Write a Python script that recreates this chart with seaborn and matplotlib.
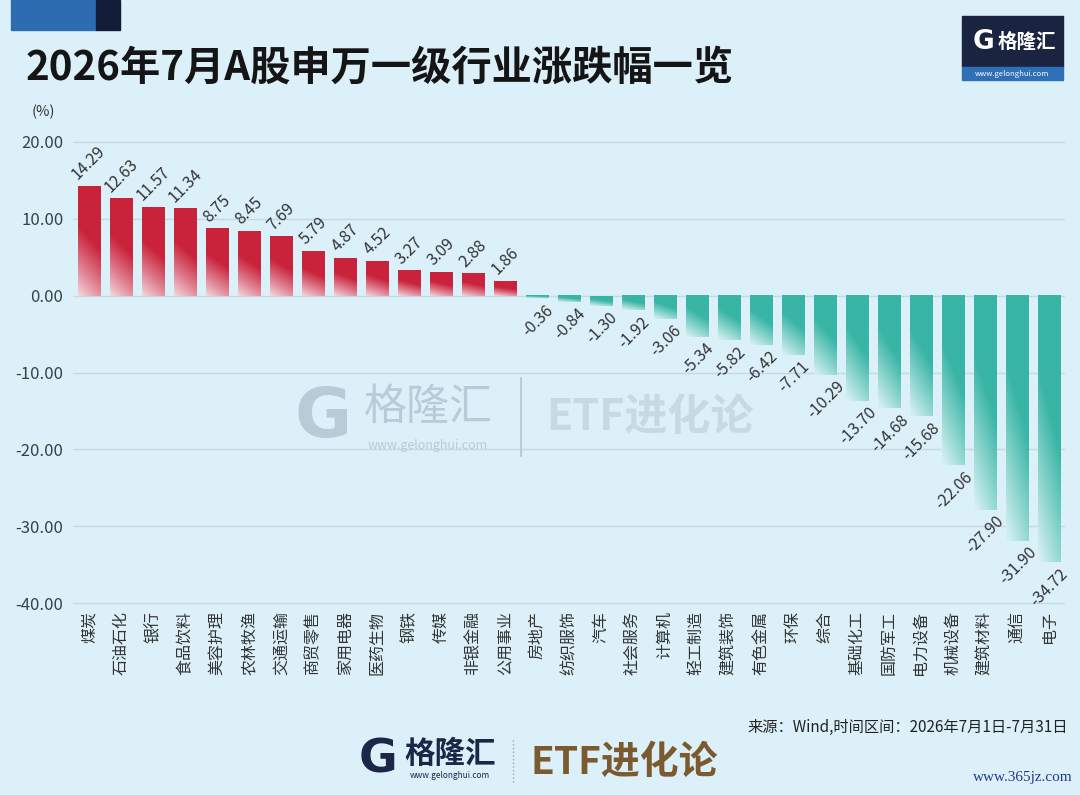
import numpy as np
import pandas as pd
import matplotlib
matplotlib.use("Agg")
import matplotlib.pyplot as plt
import seaborn as sns
from matplotlib.colors import to_rgb
from matplotlib.patches import Rectangle

# ---------------- data ----------------
industries = ["煤炭", "石油石化", "银行", "食品饮料", "美容护理", "农林牧渔", "交通运输",
              "商贸零售", "家用电器", "医药生物", "钢铁", "传媒", "非银金融", "公用事业",
              "房地产", "纺织服饰", "汽车", "社会服务", "计算机", "轻工制造", "建筑装饰",
              "有色金属", "环保", "综合", "基础化工", "国防军工", "电力设备", "机械设备",
              "建筑材料", "通信", "电子"]
changes = [14.29, 12.63, 11.57, 11.34, 8.75, 8.45, 7.69, 5.79, 4.87, 4.52, 3.27, 3.09,
           2.88, 1.86, -0.36, -0.84, -1.30, -1.92, -3.06, -5.34, -5.82, -6.42, -7.71,
           -10.29, -13.70, -14.68, -15.68, -22.06, -27.90, -31.90, -34.72]
y_ticks = [20, 10, 0, -10, -20, -30, -40]

title = "2026年7月A股申万一级行业涨跌幅一览"
unit_label = "(%)"
source_text = "来源：Wind,时间区间：2026年7月1日-7月31日"

W, H = 1080, 795
BG = "#dcf0fa"
RED_DARK, RED_PALE = "#c9233b", "#f3d6df"
TEAL_DARK, TEAL_PALE = "#38b5a5", "#d3f0f1"

sns.set_theme(style="white")
plt.rcParams["font.family"] = ["Noto Sans CJK SC", "DejaVu Sans"]
plt.rcParams["axes.unicode_minus"] = False

fig = plt.figure(figsize=(W / 100, H / 100), dpi=100, facecolor=BG)


def fx(x):
    return x / W


def fy(y):
    return 1 - y / H


ax_left, ax_right = 73, 1065
ymin, ymax = -40.3, 20.3
ppu = (603 - 142) / 60.0
ax_top = 142 - (ymax - 20) * ppu
ax_bot = 603 + (-40 - ymin) * ppu
ax = fig.add_axes([fx(ax_left), fy(ax_bot), (ax_right - ax_left) / W, (ax_bot - ax_top) / H])
ax.set_facecolor(BG)

df = pd.DataFrame({"industry": industries, "change": changes})
df["sign"] = np.where(df["change"] >= 0, "up", "down")
sns.barplot(data=df, x="industry", y="change", hue="sign",
            palette={"up": RED_DARK, "down": TEAL_DARK}, dodge=False,
            width=0.69, legend=False, ax=ax, saturation=1, zorder=3)

ax.set_xlim(-0.5, len(industries) - 0.5)
ax.set_ylim(ymin, ymax)

# gradient fill for each bar
for p in list(ax.patches):
    x0, y0 = p.get_x(), p.get_y()
    w, h = p.get_width(), p.get_height()
    if h == 0:
        continue
    y_lo, y_hi = min(y0, y0 + h), max(y0, y0 + h)
    pos = (y_hi > 0.0001) and (y_lo >= -0.0001)
    dark = np.array(to_rgb(RED_DARK if pos else TEAL_DARK))
    pale = np.array(to_rgb(RED_PALE if pos else TEAL_PALE))
    ny, nx = 120, 20
    yy = np.linspace(1, 0, ny)[:, None]  # 1 at top, 0 at bottom
    xx = np.linspace(0, 1, nx)[None, :]
    if pos:
        t = np.clip(yy * 1.6 + xx * 0.35 - 0.02, 0, 1) ** 0.9
    else:
        t = np.clip(yy * 1.45 + xx * 0.45 - 0.05, 0, 1) ** 1.0
    img = pale[None, None, :] + t[:, :, None] * (dark - pale)[None, None, :]
    ax.imshow(img, extent=[x0, x0 + w, y_lo, y_hi], aspect="auto",
              origin="upper", zorder=4, interpolation="bilinear")
    p.set_visible(False)

ax.set_xlim(-0.5, len(industries) - 0.5)
ax.set_ylim(ymin, ymax)

# value labels
for i, v in enumerate(changes):
    if v >= 0:
        ax.text(i, v + 0.4, f"{v:.2f}", rotation=45, ha="center", va="bottom",
                fontsize=11.5, color="#333333", zorder=6)
    else:
        ax.text(i + 0.02, v - 0.4, f"{v:.2f}", rotation=45, ha="center", va="top",
                fontsize=11.5, color="#333333", zorder=6)

# axes styling
ax.set_yticks(y_ticks)
ax.set_yticklabels([f"{t:.2f}" for t in y_ticks], fontsize=12, color="#36424a")
ax.set_xticks(range(len(industries)))
ax.set_xticklabels(industries, rotation=90, fontsize=11.5, color="#333333")
ax.tick_params(axis="both", length=0)
ax.tick_params(axis="y", pad=7)
ax.tick_params(axis="x", pad=4)
ax.set_xlabel("")
ax.set_ylabel("")
for s in ax.spines.values():
    s.set_visible(False)
ax.yaxis.grid(True, color="#c4d9e3", linewidth=1.0, zorder=0)
ax.set_axisbelow(True)

# ---------------- decorations ----------------
fig.patches.append(Rectangle((fx(11), fy(30)), (96 - 11) / W, 30 / H,
                             transform=fig.transFigure, color="#2e6cb2", zorder=1))
fig.patches.append(Rectangle((fx(96), fy(30)), 24 / W, 30 / H,
                             transform=fig.transFigure, color="#121d3a", zorder=1))

fig.text(fx(26), fy(68), title, fontsize=29, fontweight="bold", color="#151515",
         ha="left", va="center")
fig.text(fx(32), fy(112), unit_label, fontsize=10.5, color="#333333", ha="left", va="center")

# top-right logo
fig.patches.append(Rectangle((fx(962), fy(67)), 101 / W, 51 / H,
                             transform=fig.transFigure, color="#1a2340", zorder=1))
fig.patches.append(Rectangle((fx(962), fy(80)), 101 / W, 13 / H,
                             transform=fig.transFigure, color="#2f6fb6", zorder=1))
fig.text(fx(983), fy(42), "G", fontsize=19, fontweight="bold", color="white",
         ha="center", va="center", family=["DejaVu Sans"])
fig.text(fx(1027), fy(42), "格隆汇", fontsize=14, fontweight="bold", color="white",
         ha="center", va="center")
fig.text(fx(1012), fy(73.5), "www.gelonghui.com", fontsize=5.5, color="white",
         ha="center", va="center")

# center watermark
wm = "#b8ccd7"
fig.text(fx(323), fy(417), "G", fontsize=50, fontweight="bold", color=wm,
         ha="center", va="center", family=["DejaVu Sans"], zorder=0)
fig.text(fx(428), fy(408), "格隆汇", fontsize=31, color=wm, ha="center", va="center", zorder=0)
fig.text(fx(428), fy(446), "www.gelonghui.com", fontsize=9, color=wm,
         ha="center", va="center", zorder=0)
fig.lines.append(plt.Line2D([fx(521), fx(521)], [fy(378), fy(456)],
                            transform=fig.transFigure, color=wm, lw=1.5, zorder=0))
fig.text(fx(650), fy(417), "ETF进化论", fontsize=31, fontweight="bold", color="#c7d9e2",
         ha="center", va="center", zorder=0)

# source
fig.text(fx(1068), fy(727), source_text, fontsize=11, color="#222222", ha="right", va="center")

# bottom logo
navy = "#1c2747"
fig.text(fx(378), fy(760), "G", fontsize=34, fontweight="bold", color=navy,
         ha="center", va="center", family=["DejaVu Sans"])
fig.text(fx(450), fy(754), "格隆汇", fontsize=22, fontweight="bold", color=navy,
         ha="center", va="center")
fig.text(fx(450), fy(775), "www.gelonghui.com", fontsize=6, color=navy,
         ha="center", va="center")
fig.lines.append(plt.Line2D([fx(513), fx(513)], [fy(740), fy(784)],
                            transform=fig.transFigure, color="#9aaab5", lw=1, ls=":"))
fig.text(fx(624), fy(762), "ETF进化论", fontsize=28, fontweight="bold", color="#7a5a2e",
         ha="center", va="center")

fig.text(fx(1073), fy(778), "www.365jz.com", fontsize=11, color="#1f3a8a",
         ha="right", va="center", family=["Liberation Serif", "DejaVu Serif"])

fig.savefig("out.png", dpi=100, facecolor=BG)
